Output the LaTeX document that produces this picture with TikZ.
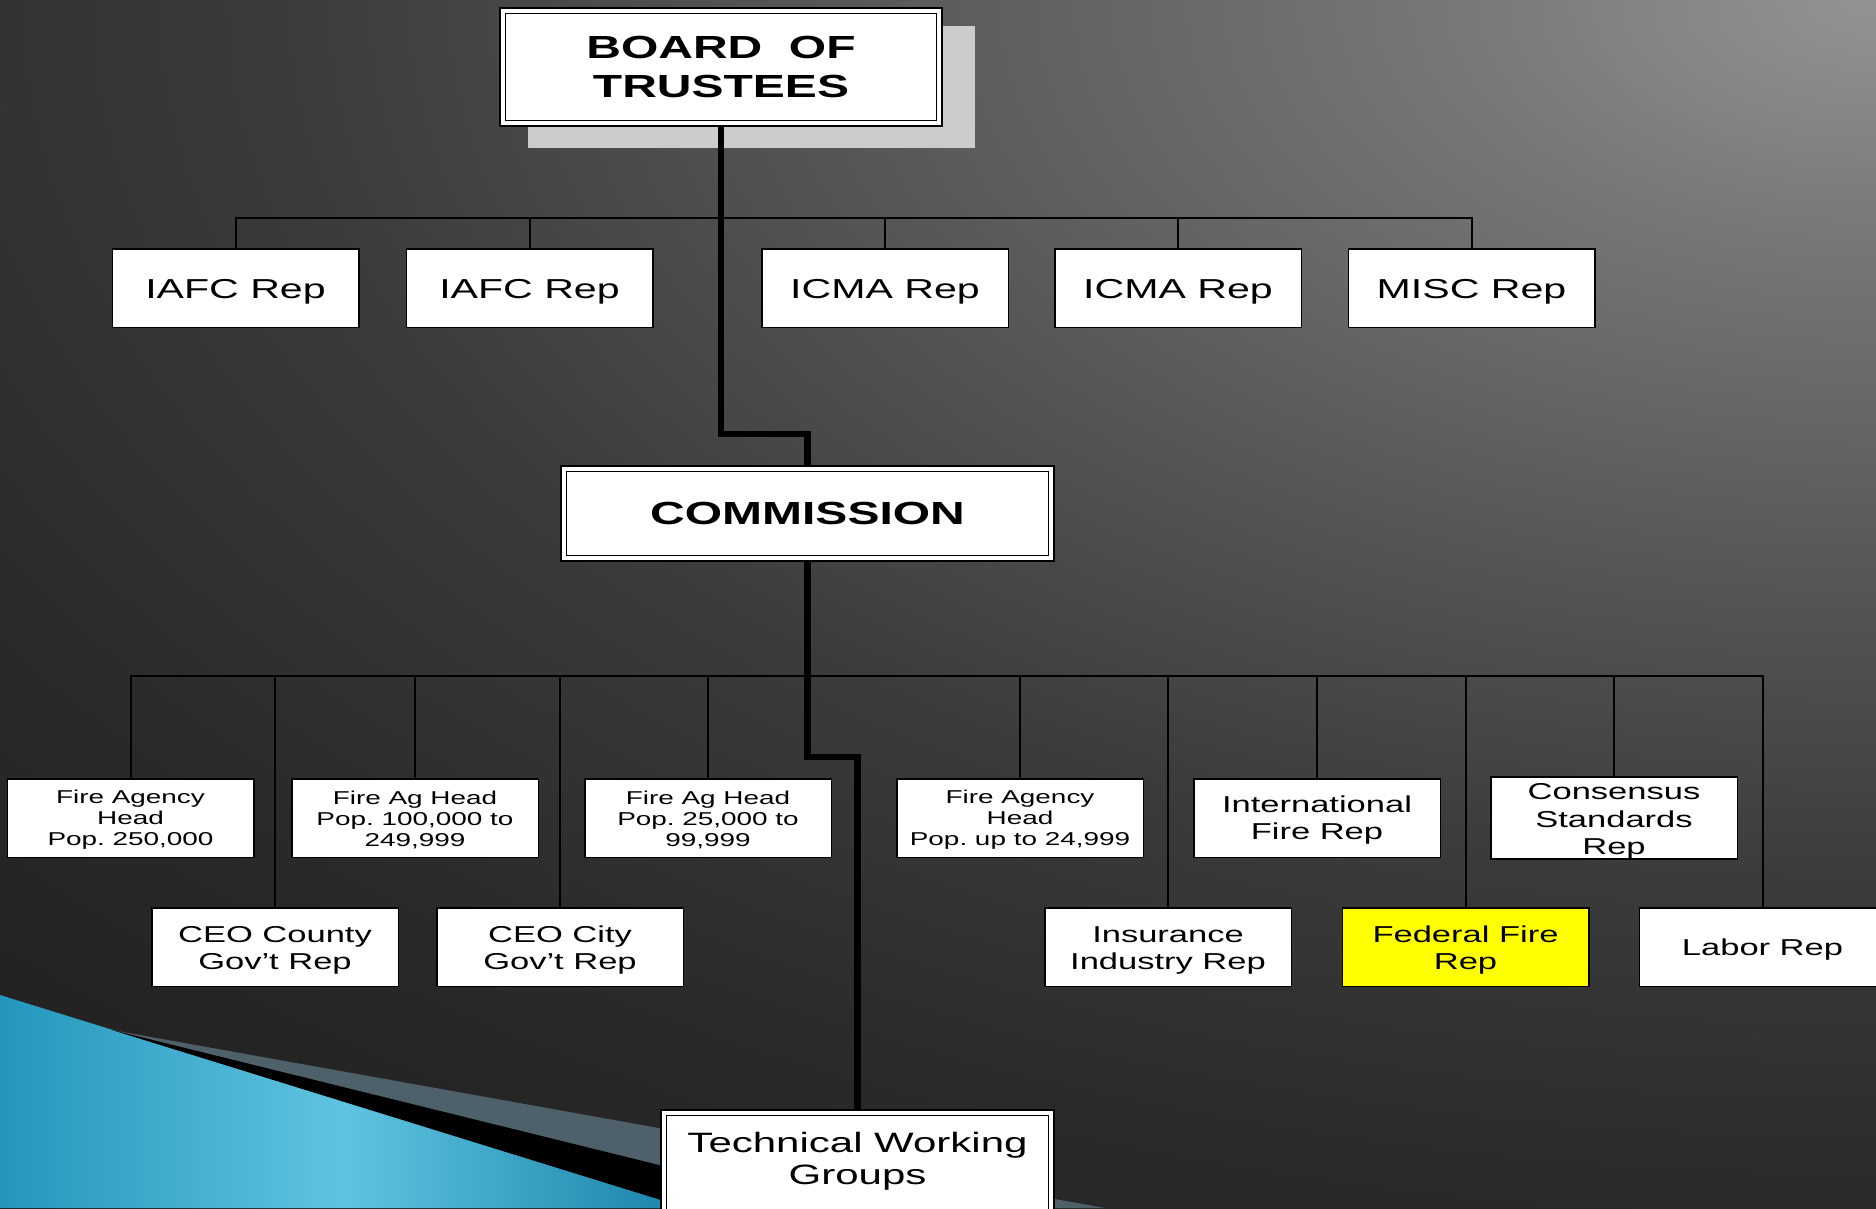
\documentclass[tikz,border=0pt]{standalone}
\usepackage{fontspec}
\setmainfont{Liberation Sans}[FakeStretch=1.5]
\frenchspacing
\definecolor{bg0}{HTML}{939393}
\definecolor{bg1}{HTML}{777777}
\definecolor{bg2}{HTML}{585858}
\definecolor{bg3}{HTML}{3B3B3B}
\definecolor{bg4}{HTML}{2A2A2A}
\definecolor{bg5}{HTML}{1D1D1D}
\definecolor{blueA}{HTML}{2496BD}
\definecolor{blueB}{HTML}{5EC4E0}
\definecolor{blueC}{HTML}{1883AA}
\definecolor{wedgegray}{HTML}{4E606A}
\definecolor{shadowgray}{HTML}{CCCCCC}
\definecolor{fedyellow}{HTML}{FFFF00}
\pgfdeclareradialshading{bgshade}{\pgfpoint{0bp}{0bp}}{color(0bp)=(bg0); color(3.75bp)=(bg1); color(8.75bp)=(bg2); color(13.75bp)=(bg3); color(18.75bp)=(bg4); color(25bp)=(bg5); color(50bp)=(bg5)}
\pgfdeclarelayer{back}
\pgfsetlayers{back,main}
\newcommand\strutM{\rule{0pt}{22pt}}
\newcommand\strutS{\rule{0pt}{17.4pt}}
\begin{document}
\begin{tikzpicture}[x=1pt,y=-1pt,
  box/.style={draw=black, line width=1.5pt, fill=white, minimum width=246.5pt, minimum height=78.5pt, inner sep=0pt, align=center, text=black},
  dbox/.style={draw=black, fill=white, double=white, double distance=4pt, line width=1.7pt, inner sep=0pt, align=center, text=black},
  bus/.style={line width=2pt, draw=black},
  trunk/.style={line width=6.5pt, draw=black},
  big/.style={font=\fontsize{27.4pt}{30pt}\selectfont, execute at begin node={\rule{0pt}{26.8pt}}},
  twgfont/.style={font=\fontsize{28pt}{32pt}\selectfont},
  mid/.style={font=\fontsize{23pt}{27.2pt}\selectfont, execute at begin node={\rule{0pt}{21.5pt}}},
  small/.style={font=\fontsize{18.6pt}{21pt}\selectfont},
  headb/.style={font=\bfseries\fontsize{32pt}{38.5pt}\selectfont},
  headc/.style={font=\bfseries\fontsize{32pt}{36pt}\selectfont}
]
\useasboundingbox (0,0) rectangle (1876,1208);
\clip (0,0) rectangle (1876,1208);
\begin{pgfonlayer}{back}
  \clip (0,0) rectangle (1876,1208);
  \fill[bg5] (0,0) rectangle (1876,1208);
  \shade[shading=bgshade] (1876,0) ellipse [x radius=2900pt, y radius=1600pt];
  \shade[left color=blueA, right color=blueC, middle color=blueB] (0,995) -- (687,1208) -- (0,1208) -- cycle;
  \fill[wedgegray] (112,1030) -- (1105,1208) -- (833,1208) -- cycle;
  \fill[black] (112,1030) -- (833,1208) -- (687,1208) -- cycle;
  \fill[shadowgray] (528,26) rectangle (975,148);
\end{pgfonlayer}

% top
\node[dbox, headb, minimum width=436.6pt, minimum height=112.6pt] (board) at (721,67) {BOARD\ \ OF\\TRUSTEES};
\node[box, big] (iafc1) at (235.5,288) {IAFC Rep};
\node[box, big] (iafc2) at (529.5,288) {IAFC Rep};
\node[box, big] (icma1) at (885,288) {ICMA Rep};
\node[box, big] (icma2) at (1178,288) {ICMA Rep};
\node[box, big] (misc) at (1471.5,288) {MISC Rep};

\node[dbox, headc, minimum width=487.6pt, minimum height=89.6pt] (comm) at (807.5,513.5) {COMMISSION};

% row 2
\node[box, small] (fa1) at (130.5,818) {\strutS Fire Agency\\Head\\Pop. 250,000};
\node[box, small] (fa2) at (415,818) {\strutS Fire Ag Head\\Pop. 100,000 to\\249,999};
\node[box, small] (fa3) at (708,818) {\strutS Fire Ag Head\\Pop. 25,000 to\\99,999};
\node[box, small] (fa4) at (1020,818) {\strutS Fire Agency\\Head\\Pop. up to 24,999};
\node[box, mid] (intl) at (1317,818) {\rule{0pt}{20.4pt}International\\Fire Rep};
\node[box, mid] (cons) at (1614,818) {\rule{0pt}{23pt}Consensus\\Standards\\Rep};

% row 3
\node[box, mid] (ceocounty) at (275,947) {\strutM CEO County\\Gov’t Rep};
\node[box, mid] (ceocity) at (560,947) {\strutM CEO City\\Gov’t Rep};
\node[box, mid] (ins) at (1168,947) {\rule{0pt}{22.8pt}Insurance\\Industry Rep};
\node[box, mid, fill=fedyellow] (fed) at (1465.5,947) {\strutM Federal Fire\\Rep};
\node[box, mid] (labor) at (1762.5,947) {Labor Rep};

% technical working groups
\node[dbox, minimum width=387.6pt, minimum height=150pt, anchor=north] (twg) at (857.5,1111.7) {};
\node[twgfont, anchor=north, inner sep=0pt, align=center] (twgtext) at (857.5,1132) {Technical Working\\Groups};

\begin{pgfonlayer}{back}
  \draw[bus] (iafc1.north) -- (iafc1.north |- 0,218) -| (misc.north);
  \foreach \n in {iafc2,icma1,icma2} \draw[bus] (\n.north) -- (\n.north |- 0,218);
  \draw[bus] (fa1.north) -- (fa1.north |- 0,676) -| (labor.north);
  \foreach \n in {ceocounty,fa2,ceocity,fa3,fa4,ins,intl,fed,cons} \draw[bus] (\n.north) -- (\n.north |- 0,676);
  \draw[trunk] (board.south) -- (board.south |- 0,434) -| (comm.north);
  \draw[trunk] (comm.south) -- (comm.south |- 0,757) -| (twg.north);
\end{pgfonlayer}
\end{tikzpicture}
\end{document}
